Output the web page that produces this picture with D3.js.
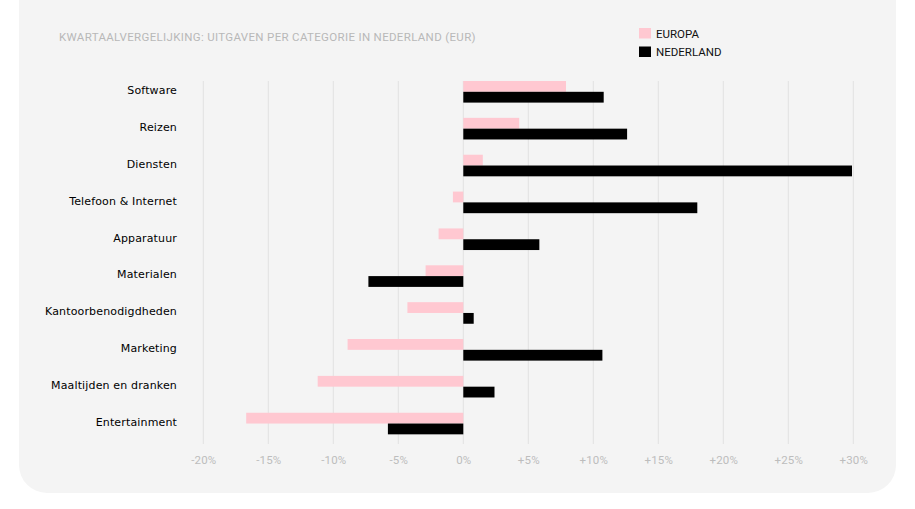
<!DOCTYPE html>
<html>
<head>
<meta charset="utf-8">
<script src="https://cdn.jsdelivr.net/npm/d3@7"></script>
<style>
  body { margin: 0; background: #fff; }
  svg { display: block; }
</style>
</head>
<body>
<svg id="chart"></svg>
<script>
const categories = ['Software', 'Reizen', 'Diensten', 'Telefoon & Internet', 'Apparatuur',
  'Materialen', 'Kantoorbenodigdheden', 'Marketing', 'Maaltijden en dranken', 'Entertainment'];
const europa = [7.9, 4.3, 1.5, -0.8, -1.9, -2.9, -4.3, -8.9, -11.2, -16.7];
const nederland = [10.8, 12.6, 29.9, 18.0, 5.85, -7.3, 0.8, 10.7, 2.4, -5.8];
const ticks = [-20, -15, -10, -5, 0, 5, 10, 15, 20, 25, 30];
const seriesNames = ['EUROPA', 'NEDERLAND'];
const seriesColors = ['#ffc8d1', '#000000'];
const title = 'KWARTAALVERGELIJKING: UITGAVEN PER CATEGORIE IN NEDERLAND (EUR)';

const width = 915, height = 509;
const svg = d3.select('#chart').attr('width', width).attr('height', height);

svg.append('rect')
  .attr('x', 19).attr('y', -30)
  .attr('width', 877).attr('height', 523)
  .attr('rx', 28)
  .attr('fill', '#f4f4f4');

const x = d3.scaleLinear().domain([-20, 30]).range([203.3, 853.3]);
const y = d3.scaleBand().domain(categories).range([81, 81 + 36.86 * categories.length]);
const barH = 10.8;

// grid
svg.append('g')
  .selectAll('line')
  .data(ticks)
  .join('line')
    .attr('x1', d => x(d)).attr('x2', d => x(d))
    .attr('y1', 81).attr('y2', 444)
    .attr('stroke', '#e2e2e2')
    .attr('stroke-width', 1);

// axis
const axis = svg.append('g')
  .attr('transform', 'translate(0,' + 444 + ')')
  .call(d3.axisBottom(x).tickValues(ticks).tickSize(0).tickPadding(12)
    .tickFormat(d => (d > 0 ? '+' : '') + d + '%'));
axis.select('.domain').remove();
axis.selectAll('text')
  .attr('fill', '#bdbdbd')
  .attr('font-family', 'Roboto, sans-serif')
  .attr('font-size', '11.5px')
  .attr('letter-spacing', '0.2px');

// bars
const rows = categories.map((c, i) => ({ cat: c, vals: [europa[i], nederland[i]] }));
const groups = svg.append('g')
  .selectAll('g')
  .data(rows)
  .join('g')
    .attr('transform', d => 'translate(0,' + y(d.cat) + ')');

groups.selectAll('rect')
  .data(d => d.vals)
  .join('rect')
    .attr('x', d => x(Math.min(0, d)))
    .attr('y', (d, i) => i * barH)
    .attr('width', d => Math.abs(x(d) - x(0)))
    .attr('height', barH)
    .attr('fill', (d, i) => seriesColors[i]);

// category labels
svg.append('g')
  .selectAll('text')
  .data(categories)
  .join('text')
    .attr('x', 177)
    .attr('y', d => y(d) + barH - 1.5)
    .attr('dy', '0.35em')
    .attr('text-anchor', 'end')
    .attr('font-family', '"DejaVu Sans", sans-serif')
    .attr('font-size', '11px')
    .attr('letter-spacing', '0.15px')
    .attr('fill', '#000')
    .text(d => d);

// title
svg.append('text')
  .attr('x', 59).attr('y', 37)
  .attr('dy', '0.35em')
  .attr('font-family', 'Roboto, sans-serif')
  .attr('font-size', '11.5px')
  .attr('letter-spacing', '0.33px')
  .attr('fill', '#b8b8b8')
  .text(title);

// legend
const legend = svg.append('g')
  .selectAll('g')
  .data(seriesNames)
  .join('g')
    .attr('transform', (d, i) => 'translate(639,' + (28 + i * 18.5) + ')');
legend.append('rect')
  .attr('width', 12).attr('height', 10.5)
  .attr('fill', (d, i) => seriesColors[i]);
legend.append('text')
  .attr('x', 17).attr('y', 5.5)
  .attr('dy', '0.35em')
  .attr('font-family', 'Roboto, sans-serif')
  .attr('font-size', '11.5px')
  .attr('fill', '#111')
  .text(d => d);
</script>
</body>
</html>
